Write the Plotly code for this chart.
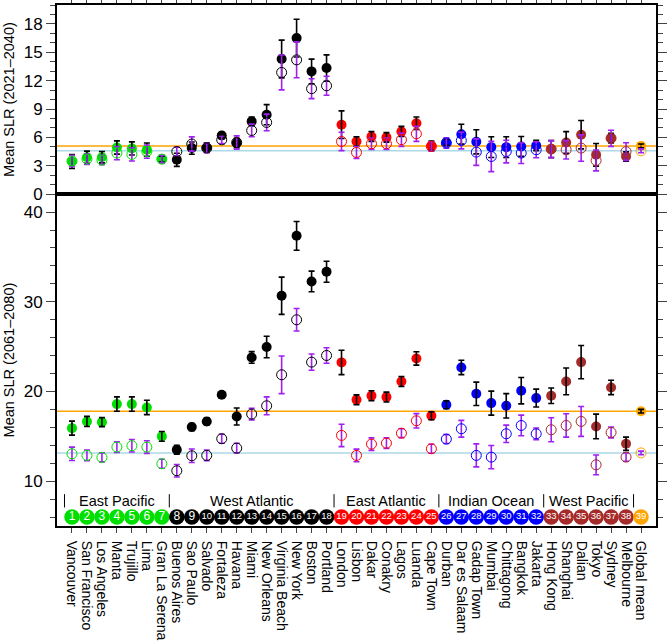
import plotly.graph_objects as go

# locations, in plotting order
cities = ['Vancouver', 'San Francisco', 'Los Angeles', 'Manta', 'Trujillo', 'Lima',
          'Gran La Serena', 'Buenos Aires', 'Sao Paulo', 'Salvado', 'Fortaleza', 'Havana',
          'Miami', 'New Orleans', 'Virginia Beach', 'New York', 'Boston', 'Portland',
          'London', 'Lisbon', 'Dakar', 'Conakry', 'Lagos', 'Luanda', 'Cape Town',
          'Durban', 'Dar es Salaam', 'Gadap Town', 'Mumbai', 'Chittagong', 'Bangkok',
          'Jakarta', 'Hong Kong', 'Shanghai', 'Dalian', 'Tokyo', 'Sydney', 'Melbourne',
          'Global mean']

regions = ['East Pacific', 'West Atlantic', 'East Atlantic', 'Indian Ocean', 'West Pacific']
region_sizes = [7, 11, 7, 7, 6]
region_colors = ['#00E000', 'black', '#FF0000', '#0000FF', '#A52A2A']
global_color = '#FFA500'

# 2021-2040, filled = black bars, open = purple bars
slr1_full = [3.45, 3.9, 3.9, 4.93, 4.83, 4.7, 3.7, 3.63, 4.87, 4.93, 6.2, 5.4, 7.69,
             8.4, 14.29, 16.5, 12.98, 13.33, 7.34, 5.57, 6.1, 6.0, 6.63, 7.5, 5.11,
             5.47, 6.34, 5.53, 4.97, 4.97, 5.04, 5.15, 4.76, 5.46, 6.28, 4.16, 5.92,
             3.98, 5.1]
slr1_full_err = [0.74, 0.65, 0.6, 0.7, 0.7, 0.7, 0.3, 0.7, 0.65, 0.5, 0.35, 0.5, 0.45,
                 1.06, 2.0, 2.0, 1.3, 1.4, 1.46, 0.5, 0.53, 0.5, 0.53, 0.65, 0.5,
                 0.3, 1.05, 1.27, 1.1, 1.1, 1.05, 0.55, 0.9, 1.15, 1.5, 1.2, 0.5,
                 0.5, 0.2]
slr1_open = [3.5, 3.7, 3.6, 4.34, 4.2, 4.5, 3.7, 4.5, 5.3, 4.87, 5.74, 5.46, 6.73,
             7.58, 12.87, 14.2, 11.15, 11.46, 5.57, 4.41, 5.33, 5.33, 5.75, 6.38, 5.04,
             5.4, 5.67, 4.44, 3.98, 4.5, 4.34, 4.69, 4.76, 4.69, 4.87, 3.56, 5.9,
             4.5, 4.58]
slr1_open_err = [0.6, 0.55, 0.5, 0.7, 0.7, 0.7, 0.4, 0.45, 0.75, 0.5, 0.4, 0.7, 0.67,
                 0.88, 1.85, 1.9, 1.05, 1.0, 0.97, 0.63, 0.6, 0.6, 0.7, 0.8, 0.5,
                 0.55, 0.88, 1.4, 1.6, 1.2, 1.1, 0.85, 0.9, 0.97, 1.4, 1.1, 0.85,
                 0.93, 0.2]

# 2061-2080
slr2_full = [15.91, 16.66, 16.58, 18.59, 18.59, 18.22, 14.99, 13.5, 16.03, 16.66, 19.63,
             17.21, 23.79, 24.95, 30.67, 37.35, 32.26, 33.34, 23.24, 19.07, 19.52, 19.37,
             21.11, 23.68, 17.29, 18.52, 22.68, 19.74, 18.7, 18.4, 20.08, 19.26, 19.52,
             21.12, 23.27, 16.1, 20.45, 14.17, 17.8]
slr2_full_err = [0.78, 0.56, 0.5, 0.8, 0.8, 0.8, 0.55, 0.5, 0.4, 0.4, 0.3, 0.95, 0.65,
                 1.2, 2.08, 1.6, 1.15, 1.17, 1.36, 0.55, 0.55, 0.55, 0.55, 0.75, 0.45,
                 0.45, 0.8, 1.3, 1.34, 1.36, 1.47, 1.0, 0.87, 1.49, 1.86, 1.37, 0.8,
                 0.74, 0.2]
slr2_open = [13.05, 12.87, 12.65, 13.8, 13.95, 13.8, 11.94, 11.16, 12.83, 12.87, 14.73,
             13.68, 17.48, 18.4, 21.86, 27.99, 23.27, 24.01, 15.1, 12.87, 14.13, 14.24,
             15.35, 16.73, 13.61, 14.69, 15.84, 12.87, 12.68, 15.28, 16.21, 15.28, 15.73,
             16.21, 16.66, 11.82, 15.43, 12.68, 13.15]
slr2_open_err = [0.74, 0.6, 0.5, 0.6, 0.7, 0.7, 0.5, 0.7, 0.75, 0.6, 0.5, 0.55, 0.65,
                 1.0, 2.1, 1.25, 0.9, 0.87, 1.25, 0.7, 0.7, 0.6, 0.5, 0.8, 0.5,
                 0.5, 0.93, 1.28, 1.3, 0.97, 1.15, 0.65, 1.34, 1.3, 1.67, 1.1, 0.6,
                 0.46, 0.2]

FONT = 'Liberation Sans, Arial, Helvetica, sans-serif'
PURPLE = '#A020F0'

idx = list(range(1, len(cities) + 1))
colors = []
for c, n in zip(region_colors, region_sizes):
    colors += [c] * n
colors.append(global_color)

# region borders (between groups)
borders = [0.5]
for n in region_sizes:
    borders.append(borders[-1] + n)


def panel(full, full_err, opn, opn_err, xa, ya):
    out = []
    out.append(go.Scatter(x=idx, y=full, xaxis=xa, yaxis=ya, mode='markers',
                          marker=dict(size=10, color=colors, line=dict(width=0)),
                          hoverinfo='skip'))
    # black bars drawn over the filled dots
    out.append(go.Scatter(x=idx, y=full, xaxis=xa, yaxis=ya, mode='markers',
                          marker=dict(size=1, color='rgba(0,0,0,0)'),
                          error_y=dict(type='data', array=full_err, color='black',
                                       thickness=1.6, width=3),
                          hoverinfo='skip'))
    out.append(go.Scatter(x=idx, y=opn, xaxis=xa, yaxis=ya, mode='markers',
                          marker=dict(size=10, symbol='circle-open', color=colors,
                                      line=dict(width=1)),
                          error_y=dict(type='data', array=opn_err, color=PURPLE,
                                       thickness=1.6, width=3),
                          hoverinfo='skip'))
    return out


data = []
data += panel(slr1_full, slr1_full_err, slr1_open, slr1_open_err, 'x2', 'y2')
data += panel(slr2_full, slr2_full_err, slr2_open, slr2_open_err, 'x', 'y')

# numbered strip at the bottom of the lower panel
data.append(go.Scatter(x=idx, y=[6.0] * len(idx), xaxis='x', yaxis='y',
                       mode='markers+text',
                       marker=dict(size=15.5, color=colors, line=dict(width=0)),
                       text=[str(i) for i in idx], textposition='middle center',
                       textfont=dict(color='white', family=FONT,
                                     size=[12 if i < 10 else 9.5 for i in idx]),
                       hoverinfo='skip'))

shapes = []
# reference lines from the global mean
for y, ya, col in [(slr1_full[-1], 'y2', '#FFA500'), (slr1_open[-1], 'y2', '#ADD8E6'),
                   (slr2_full[-1], 'y', '#FFA500'), (slr2_open[-1], 'y', '#ADD8E6')]:
    shapes.append(dict(type='line', xref='x', yref=ya, x0=0, x1=40, y0=y, y1=y,
                       line=dict(color=col, width=1.5), layer='below'))
for b in borders:
    shapes.append(dict(type='line', xref='x', yref='y', x0=b, x1=b, y0=7.07, y1=8.55,
                       line=dict(color='black', width=1)))

annotations = []
for i, name in enumerate(regions):
    annotations.append(dict(x=(borders[i] + borders[i + 1]) / 2, y=7.8, xref='x', yref='y',
                            text=name, showarrow=False,
                            font=dict(size=14.5, family=FONT, color='black')))

axis_common = dict(showline=True, linecolor='black', linewidth=2, mirror=True,
                   showgrid=False, zeroline=False, automargin=False)

layout = go.Layout(
    width=667, height=641,
    margin=dict(l=57, r=11, t=5, b=115),
    plot_bgcolor='white', paper_bgcolor='white',
    showlegend=False,
    font=dict(family=FONT, size=14, color='black'),
    xaxis=dict(domain=[0, 1], anchor='y', range=[0, 40], tickvals=idx, ticktext=cities,
               ticks='outside', ticklen=5, tickwidth=1, tickangle=90,
               ticklabelstandoff=5, tickfont=dict(size=14), **axis_common),
    xaxis2=dict(domain=[0, 1], anchor='y2', range=[0, 40], tickvals=idx, side='top',
                ticks='outside', ticklen=5, tickwidth=1, showticklabels=False,
                **axis_common),
    yaxis=dict(domain=[0, 0.637], anchor='x', range=[5, 42], tickvals=[10, 20, 30, 40],
               ticks='outside', ticklen=9, tickwidth=1, tickfont=dict(size=17),
               minor=dict(dtick=2, tick0=0, ticks='outside', ticklen=5, tickwidth=1),
               title=dict(text='Mean SLR (2061\u20132080)', font=dict(size=14.5), standoff=6),
               **{**axis_common, 'mirror': 'allticks'}),
    yaxis2=dict(domain=[0.637, 1], anchor='x2', range=[0, 20],
                tickvals=[0, 3, 6, 9, 12, 15, 18],
                ticks='outside', ticklen=9, tickwidth=1, tickfont=dict(size=17),
                minor=dict(dtick=1, tick0=0, ticks='outside', ticklen=5, tickwidth=1),
                title=dict(text='Mean SLR (2021\u20132040)', font=dict(size=14.5), standoff=6),
                **{**axis_common, 'mirror': 'allticks'}),
    shapes=shapes,
    annotations=annotations,
)

fig = go.Figure(data=data, layout=layout)
# page body has a default 8px margin; drop it so the figure sits at the corner
fig.write_html('out.html', config={'displayModeBar': False},
               post_script="document.body.style.margin='0px';")
